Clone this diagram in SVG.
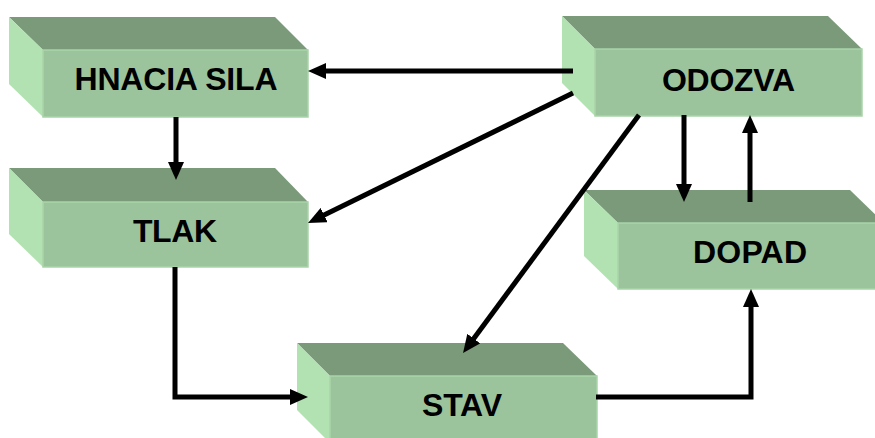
<svg xmlns="http://www.w3.org/2000/svg" width="875" height="438" viewBox="0 0 875 438">
<defs>
<style>
.top{fill:#7a9a7a;}
.side{fill:#b2e2b2;}
.front{fill:#9cc49c;stroke:#a9d4a9;stroke-width:1.5;}
.lbl{font-family:"Liberation Sans",Arial,sans-serif;font-weight:bold;font-size:32px;fill:#000;text-anchor:middle;}
.arr{fill:none;stroke:#000;stroke-width:5;marker-end:url(#ah);}
</style>
<marker id="ah" viewBox="0 0 18 16" refX="8" refY="8" markerWidth="18" markerHeight="16" markerUnits="userSpaceOnUse" orient="auto">
<path d="M0,0 L18,8 L0,16 z" fill="#000"/>
</marker>
</defs>
<rect width="875" height="438" fill="#fff"/>
<g id="hnacia-sila">
<polygon class="top" points="9,17 275,17 308,50 43,50"/>
<polygon class="side" points="9,17 43,50 43,117 9,84"/>
<rect class="front" x="43" y="50" width="265" height="67"/>
<text class="lbl" x="176" y="90" textLength="203" lengthAdjust="spacing">HNACIA SILA</text>
</g>
<g id="odozva">
<polygon class="top" points="562,16 828,16 862,49 595,49"/>
<polygon class="side" points="562,16 595,49 595,116 562,83"/>
<rect class="front" x="595" y="49" width="267" height="67"/>
<text class="lbl" x="728.5" y="91" textLength="133" lengthAdjust="spacing">ODOZVA</text>
</g>
<g id="tlak">
<polygon class="top" points="9,168 275,168 308,202 43,202"/>
<polygon class="side" points="9,168 43,202 43,267 9,234"/>
<rect class="front" x="43" y="202" width="265" height="65"/>
<text class="lbl" x="175" y="242" textLength="84" lengthAdjust="spacing">TLAK</text>
</g>
<g id="dopad">
<polygon class="top" points="584,190 850,190 884,223 618,223"/>
<polygon class="side" points="584,190 618,223 618,289 584,256"/>
<rect class="front" x="618" y="223" width="266" height="66"/>
<text class="lbl" x="750" y="263" textLength="114" lengthAdjust="spacing">DOPAD</text>
</g>
<g id="stav">
<polygon class="top" points="297,343 563,343 597,376 330,376"/>
<polygon class="side" points="297,343 330,376 330,443 297,410"/>
<rect class="front" x="330" y="376" width="267" height="67"/>
<text class="lbl" x="462" y="416" textLength="80" lengthAdjust="spacing">STAV</text>
</g>
<g id="connectors">
<line class="arr" x1="573" y1="71" x2="318" y2="71"/>
<line class="arr" x1="573" y1="93" x2="317" y2="218.6"/>
<line class="arr" x1="639" y1="115" x2="469" y2="345"/>
<line class="arr" x1="684" y1="115" x2="684" y2="192"/>
<line class="arr" x1="750" y1="202" x2="750" y2="125"/>
<line class="arr" x1="176" y1="117" x2="176" y2="170"/>
<polyline class="arr" points="175,267 175,397 298,397"/>
<polyline class="arr" points="596,397 751,397 751,299"/>
</g>
</svg>
